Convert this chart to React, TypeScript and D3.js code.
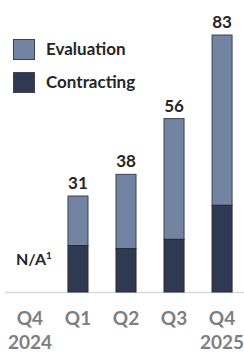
import React from "react";
import * as d3 from "d3";

const quarters = ["Q4", "Q1", "Q2", "Q3", "Q4"];
const years = ["2024", "", "", "", "2025"];
const contracting = [null, 15, 14, 17, 28];
const evaluation = [null, 16, 24, 39, 55];
const totals = [null, 31, 38, 56, 83];
const naLabel = "N/A";
const legendLabels = ["Evaluation", "Contracting"];

const W = 244;
const H = 354;
const EVAL = "#7384a3";
const CONTR = "#2f3a52";
const FONT = "Lato, 'Open Sans', sans-serif";

export default function App() {
  const x = d3
    .scaleBand<number>()
    .domain(d3.range(quarters.length))
    .range([6, 246])
    .paddingInner(0.583)
    .paddingOuter(0.29);
  const y = d3.scaleLinear().domain([0, 83]).range([292, 35]);
  const bw = x.bandwidth();
  const cx = (i: number) => (x(i) as number) + bw / 2;

  return (
    <svg
      width={W}
      height={H}
      style={{ position: "absolute", left: 0, top: 0, background: "#fff" }}
      fontFamily={FONT}
    >
      <line x1={5} x2={244} y1={y(0) + 0.5} y2={y(0) + 0.5} stroke="#d9d9d9" strokeWidth={1.5} />
      {quarters.map((q, i) => {
        const c = contracting[i];
        const e = evaluation[i];
        const t = totals[i];
        return (
          <g key={i}>
            {c != null && e != null && t != null ? (
              <>
                <rect
                  x={x(i)}
                  y={y(c + e)}
                  width={bw}
                  height={y(c) - y(c + e)}
                  fill={EVAL}
                  stroke="#3d4250"
                  strokeWidth={1}
                />
                <rect
                  x={x(i)}
                  y={y(c)}
                  width={bw}
                  height={y(0) - y(c)}
                  fill={CONTR}
                  stroke="#262a33"
                  strokeWidth={1}
                />
                <text
                  x={cx(i)}
                  y={y(t) - 7}
                  textAnchor="middle"
                  fontSize={17}
                  fontWeight={700}
                  fill="#262626"
                >
                  {t}
                </text>
              </>
            ) : (
              <text x={cx(i) + 4} y={265} textAnchor="middle" fontSize={16} fontWeight={700} fill="#262626">
                {naLabel}
                <tspan fontSize={10} dy={-6}>1</tspan>
              </text>
            )}
            <text x={cx(i)} y={325} textAnchor="middle" fontSize={19} fontWeight={700} fill="#7f7f7f">
              {q}
            </text>
            {years[i] && (
              <text x={cx(i)} y={349} textAnchor="middle" fontSize={19} fontWeight={700} fill="#7f7f7f">
                {years[i]}
              </text>
            )}
          </g>
        );
      })}
      {legendLabels.map((l, i) => (
        <g key={l} transform={`translate(13, ${39 + i * 33})`}>
          <rect x={0.5} y={0.5} width={21} height={20} fill={i === 0 ? EVAL : CONTR} stroke="#3d4250" />
          <text x={33} y={16} fontSize={17} fontWeight={700} fill="#262626">
            {l}
          </text>
        </g>
      ))}
    </svg>
  );
}
